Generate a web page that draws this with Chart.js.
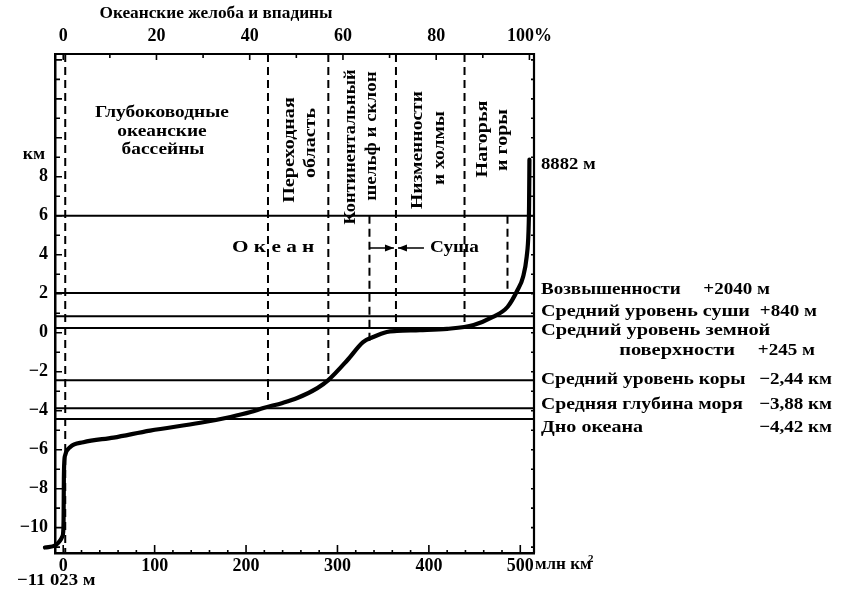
<!DOCTYPE html>
<html>
<head>
<meta charset="utf-8">
<script src="https://cdn.jsdelivr.net/npm/chart.js@4.4.1/dist/chart.umd.min.js"></script>
<style>
html,body{margin:0;padding:0;background:#fff;}
#wrap{width:842px;height:598px;position:relative;}
</style>
</head>
<body>
<div id="wrap"><canvas id="c" width="842" height="598"></canvas></div>
<script>
// ---- data ----
// hypsometric curve: cumulative area (млн км²) vs elevation (км)
const areaMkm2 = [-20, -8.5, -4, -1, 0, 0.4, 0.7, 1.2, 2.2, 7.7, 22, 55, 95, 150, 183, 205, 219, 240, 256, 278, 290, 311, 328, 339, 354, 365, 390, 420, 449, 470, 486, 497, 503, 507, 509, 509.6, 510];
const elevKm   = [-11.02, -10.9, -10.7, -10.45, -10.2, -9.5, -7.5, -6.6, -6.27, -5.86, -5.62, -5.38, -5.02, -4.62, -4.32, -4.07, -3.86, -3.6, -3.35, -2.84, -2.43, -1.40, -0.48, -0.22, 0.04, 0.09, 0.13, 0.2, 0.4, 0.81, 1.32, 2.19, 2.86, 3.9, 5.2, 6.5, 8.88];
// horizontal reference levels (км)
const levelsKm = [6, 2.04, 0.84, 0.245, -2.44, -3.88, -4.42];
// zone boundaries (dashed verticals): x position, top and bottom (км)
const dashX      = [2.2, 224, 290, 364, 439, 335, 486];
const dashTopKm  = [14.3, 14.3, 14.3, 14.3, 14.3, 6, 6];
const dashBotKm  = [-11.3, -3.86, -2.43, 0.09, 0.4, -0.5, 2.04];
// axis ticks
const areaTicks = [0, 100, 200, 300, 400, 500];
const pctTicks  = [0, 20, 40, 60, 80, 100];
const kmTicks   = [-10, -8, -6, -4, -2, 0, 2, 4, 6, 8];
const totalArea = 510; // 100 %
// labels
const levelNames  = ['Возвышенности', 'Средний уровень суши', 'Средний уровень земной', 'Средний уровень коры', 'Средняя глубина моря', 'Дно океана'];
const levelValues = ['+2040 м', '+840 м', '+245 м', '−2,44 км', '−3,88 км', '−4,42 км'];
const zoneNames = [['Переходная', 'область'], ['Континентальный', 'шельф и склон'], ['Низменности', 'и холмы'], ['Нагорья', 'и горы']];

const X_MIN = -9, X_MAX = 515, Y_MIN = -11.3, Y_MAX = 14.3;
const SERIF = '"Liberation Serif", "Times New Roman", serif';

const minus = v => (v < 0 ? '−' + Math.abs(v) : String(v));

const datasets = [];
datasets.push({
  data: areaMkm2.map((x, i) => ({x, y: elevKm[i]})),
  borderColor: '#000', borderWidth: 4.2, pointRadius: 0, showLine: true,
  cubicInterpolationMode: 'monotone', clip: false, borderCapStyle: 'round', borderJoinStyle: 'round'
});
levelsKm.forEach(v => datasets.push({
  data: [{x: X_MIN, y: v}, {x: X_MAX, y: v}],
  borderColor: '#000', borderWidth: 2, pointRadius: 0, showLine: true
}));
dashX.forEach((x, i) => datasets.push({
  data: [{x, y: dashTopKm[i]}, {x, y: dashBotKm[i]}],
  borderColor: '#000', borderWidth: 2, borderDash: [8, 5], pointRadius: 0, showLine: true
}));

function txt(ctx, s, x, y, o = {}) {
  const size = o.size || 17, sx = o.sx || 1.2;
  ctx.save();
  ctx.translate(x, y);
  if (o.rot) ctx.rotate(o.rot);
  ctx.scale(sx, 1);
  ctx.font = (o.bold === false ? '' : 'bold ') + size + 'px ' + SERIF;
  ctx.fillStyle = '#000';
  ctx.textAlign = o.align || 'left';
  ctx.textBaseline = 'middle';
  ctx.fillText(s, 0, 0);
  ctx.restore();
}

const decor = {
  id: 'decor',
  afterDatasetsDraw(chart) {
    const {ctx, chartArea: a, scales} = chart;
    const xs = scales.x, ys = scales.y;
    ctx.save();
    ctx.strokeStyle = '#000';
    // frame top and right
    ctx.lineWidth = 2.2;
    ctx.beginPath();
    ctx.moveTo(a.left, a.top); ctx.lineTo(a.right, a.top); ctx.lineTo(a.right, a.bottom);
    ctx.stroke();
    // ticks
    ctx.lineWidth = 1.6;
    ctx.beginPath();
    for (let v = -11; v <= 14; v++) {
      const py = ys.getPixelForValue(v);
      const L = v % 2 === 0 ? 7 : 5;
      ctx.moveTo(a.left, py); ctx.lineTo(a.left + L, py);
      ctx.moveTo(a.right, py); ctx.lineTo(a.right - 3, py);
    }
    for (let v = 0; v <= 500; v += 20) {
      const px = xs.getPixelForValue(v);
      const L = v % 100 === 0 ? 8 : 3;
      ctx.moveTo(px, a.bottom); ctx.lineTo(px, a.bottom - L);
    }
    for (let p = 0; p <= 100; p += 10) {
      const px = xs.getPixelForValue(p * totalArea / 100);
      const L = p % 20 === 0 ? 6 : 4;
      ctx.moveTo(px, a.top); ctx.lineTo(px, a.top + L);
    }
    ctx.stroke();
    // arrows Океан -> | <- Суша
    const yA = 248;
    const xs1 = xs.getPixelForValue(dashX[5]), xb = xs.getPixelForValue(dashX[3]);
    ctx.lineWidth = 1.6;
    ctx.beginPath();
    ctx.moveTo(xs1, yA); ctx.lineTo(xb - 2, yA);
    ctx.moveTo(xb + 2, yA); ctx.lineTo(xb + 28, yA);
    ctx.stroke();
    ctx.fillStyle = '#000';
    ctx.beginPath();
    ctx.moveTo(xb - 2, yA); ctx.lineTo(xb - 11, yA - 3.5); ctx.lineTo(xb - 11, yA + 3.5); ctx.closePath();
    ctx.moveTo(xb + 2, yA); ctx.lineTo(xb + 11, yA - 3.5); ctx.lineTo(xb + 11, yA + 3.5); ctx.closePath();
    ctx.fill();
    ctx.restore();

    // texts
    txt(ctx, 'Океанские желоба и впадины', 216, 14, {size: 16, sx: 1.08, align: 'center'});
    txt(ctx, 'км', 34, 155, {size: 17, sx: 1.05, align: 'center'});
    txt(ctx, 'Глубоководные', 162, 113, {size: 17, sx: 1.14, align: 'center'});
    txt(ctx, 'океанские', 162, 132, {size: 17, sx: 1.14, align: 'center'});
    txt(ctx, 'бассейны', 163, 150, {size: 17, sx: 1.14, align: 'center'});
    const zx = [[290, 311], [351, 372], [418, 440], [483, 503]];
    const zy = [[150, 143], [147, 136], [150, 148], [139, 140]];
    const zs = [[1.18, 1.18], [1.08, 1.12], [1.15, 1.15], [1.18, 1.18]];
    zoneNames.forEach((pair, i) => pair.forEach((s, j) =>
      txt(ctx, s, zx[i][j], zy[i][j], {size: 17, sx: zs[i][j], align: 'center', rot: -Math.PI / 2})));
    txt(ctx, 'О к е а н', 232, 248, {size: 17, sx: 1.25});
    txt(ctx, 'Суша', 430, 248, {size: 17, sx: 1.13});

    const L = a.right + 7;
    txt(ctx, '8882 м', L, 165, {size: 17, sx: 1.1});
    txt(ctx, levelNames[0], L, 290, {size: 17, sx: 1.12});
    txt(ctx, levelValues[0], 770, 290, {size: 17, sx: 1.12, align: 'right'});
    txt(ctx, levelNames[1], L, 312, {size: 17, sx: 1.18});
    txt(ctx, levelValues[1], 817, 312, {size: 17, sx: 1.12, align: 'right'});
    txt(ctx, levelNames[2], L, 331, {size: 17, sx: 1.2});
    txt(ctx, 'поверхности', 735, 351, {size: 17, sx: 1.2, align: 'right'});
    txt(ctx, levelValues[2], 815, 351, {size: 17, sx: 1.12, align: 'right'});
    txt(ctx, levelNames[3], L, 380, {size: 17, sx: 1.15});
    txt(ctx, levelValues[3], 832, 380, {size: 17, sx: 1.12, align: 'right'});
    txt(ctx, levelNames[4], L, 405, {size: 17, sx: 1.16});
    txt(ctx, levelValues[4], 832, 405, {size: 17, sx: 1.12, align: 'right'});
    txt(ctx, levelNames[5], L, 428, {size: 17, sx: 1.18});
    txt(ctx, levelValues[5], 832, 428, {size: 17, sx: 1.12, align: 'right'});

    txt(ctx, 'млн км', 535, 565, {size: 17, sx: 1.0});
    txt(ctx, '2', 588, 559, {size: 11, sx: 1.0});
    txt(ctx, '−11 023 м', 17, 581, {size: 17, sx: 1.1});
  }
};

const tickFont = {family: SERIF, size: 18, weight: 'bold'};

new Chart(document.getElementById('c'), {
  type: 'scatter',
  data: {datasets},
  plugins: [decor],
  options: {
    responsive: false, animation: false, events: [],
    layout: {padding: {left: 0, right: 842 - 534, top: 0, bottom: 0}},
    plugins: {legend: {display: false}, tooltip: {enabled: false}},
    scales: {
      x: {
        type: 'linear', position: 'bottom', min: X_MIN, max: X_MAX,
        afterBuildTicks: s => { s.ticks = areaTicks.map(v => ({value: v})); },
        afterFit: s => { s.height = 598 - 553; },
        grid: {display: false, drawTicks: false},
        border: {display: true, color: '#000', width: 2.5},
        ticks: {font: tickFont, color: '#000', padding: 3, maxRotation: 0, autoSkip: false}
      },
      x2: {
        type: 'linear', position: 'top', min: X_MIN / totalArea * 100, max: X_MAX / totalArea * 100,
        afterBuildTicks: s => { s.ticks = pctTicks.map(v => ({value: v})); },
        afterFit: s => { s.height = 54; },
        grid: {display: false, drawTicks: false},
        border: {display: false},
        ticks: {font: tickFont, color: '#000', padding: 7, maxRotation: 0, autoSkip: false,
          callback: v => (v === 100 ? '100%' : String(v))}
      },
      y: {
        type: 'linear', position: 'left', min: Y_MIN, max: Y_MAX,
        afterBuildTicks: s => { s.ticks = kmTicks.map(v => ({value: v})); },
        afterFit: s => { s.width = 55; },
        grid: {display: false, drawTicks: false},
        border: {display: true, color: '#000', width: 2.5},
        ticks: {font: tickFont, color: '#000', padding: 7, autoSkip: false, callback: v => minus(v)}
      }
    }
  }
});
</script>
</body>
</html>
